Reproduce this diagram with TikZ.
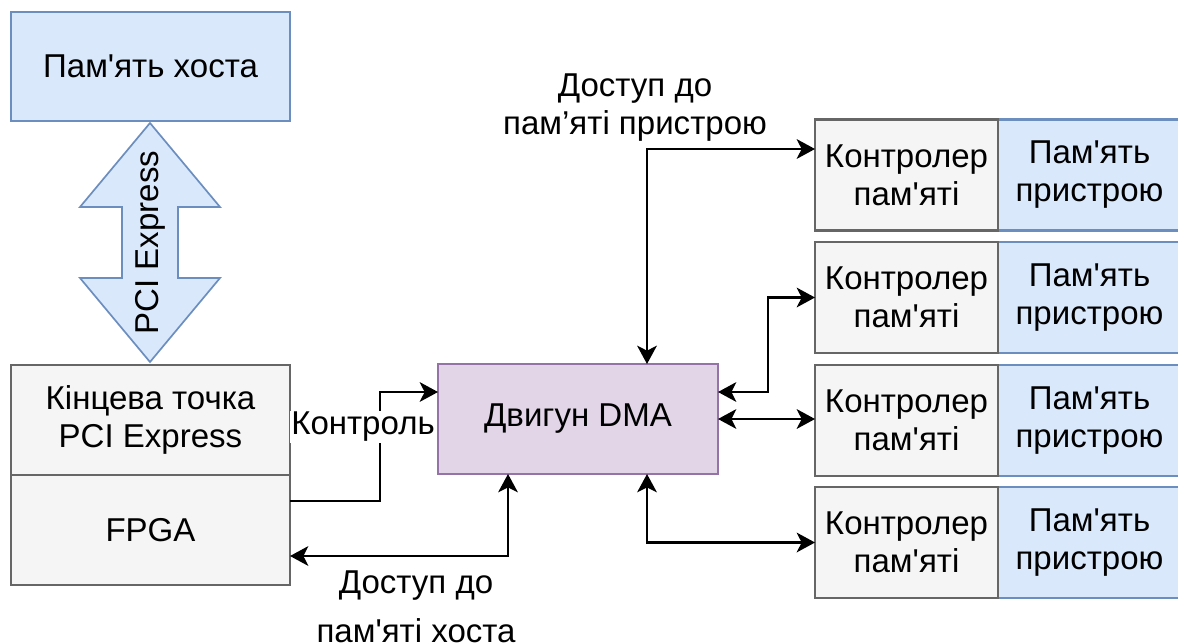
\documentclass[tikz,border=0pt]{standalone}
\usepackage{fontspec}
\setmainfont{Liberation Sans}[Ligatures=TeXOff]
\usetikzlibrary{positioning, arrows.meta}

\definecolor{hostfill}{HTML}{DAE8FC}
\definecolor{hostline}{HTML}{6C8EBF}
\definecolor{boxfill}{HTML}{F5F5F5}
\definecolor{boxline}{HTML}{666666}
\definecolor{dmafill}{HTML}{E1D5E7}
\definecolor{dmaline}{HTML}{9673A6}

\tikzset{
	plainbox/.style={shape=rectangle, draw, line width=1.5pt, outer sep=0pt, inner sep=0pt, align=center},
	bluebox/.style={plainbox, fill=hostfill, draw=hostline},
	graybox/.style={plainbox, fill=boxfill, draw=boxline},
	dmabox/.style={plainbox, fill=dmafill, draw=dmaline, line width=1.1pt},
	wire/.style={line width=1.5pt},
}

\begin{document}
\begin{tikzpicture}[font=\fontsize{23.5pt}{27pt}\selectfont, >={Stealth[length=13pt, width=14pt, inset=3.5pt]}]
	\useasboundingbox (0, 0) rectangle (29.45, -16.075);
	% Paths, nodes and wires:
	\node[bluebox, minimum width=6.975cm, minimum height=2.725cm] (host) at (3.7625, -1.6625){Пам'ять хоста};
	\node[graybox, minimum width=6.975cm, minimum height=2.75cm] (endpoint) at (3.7625, -10.5){Кінцева точка\\PCI Express};
	\node[graybox, minimum width=6.975cm, minimum height=2.75cm, below=0pt of endpoint] (fpga){FPGA};
	\node[dmabox, minimum width=7cm, minimum height=2.75cm] (dma) at (14.45, -10.475){Двигун DMA};
	% device memory banks
	\foreach \i/\y in {1/-4.375, 2/-7.4375, 3/-10.5125, 4/-13.5625} {
		\node[bluebox, minimum width=4.575cm, minimum height=2.775cm] (mem\i) at (27.2375, \y){Пам'ять\\пристрою};
		\node[graybox, minimum width=4.575cm, minimum height=2.775cm, left=0pt of mem\i] (ctrl\i){Контролер\\пам'яті};
	}
	% PCI Express link
	\draw[hostline, fill=hostfill, line width=1.2pt] (3.75, -3.075) -- (5.5, -5.175) -- (4.45, -5.175) -- (4.45, -6.95) -- (5.5, -6.95) -- (3.75, -9.05) -- (2, -6.95) -- (3.05, -6.95) -- (3.05, -5.175) -- (2, -5.175) -- cycle;
	\node[rotate=90] (pcie) at (3.75, -6.0625){PCI Express};
	% wires
	\draw[wire, <->] ([xshift=1.725cm]dma.north) |- ([yshift=0.65cm]ctrl1.west);
	\draw[wire, <->] ([yshift=0.675cm]dma.east) -- ++(1.25, 0) |- (ctrl2.west);
	\draw[wire, <->] (dma.east) -- (dma.east -| ctrl3.west);
	\draw[wire, <->] ([xshift=1.725cm]dma.south) |- (ctrl4.west);
	\draw[wire, ->] ([yshift=0.725cm]fpga.east) -- ++(2.25, 0) |- ([yshift=0.675cm]dma.west);
	\draw[wire, <->] ([xshift=-1.75cm]dma.south) |- ([yshift=-0.65cm]fpga.east);
	% labels
	\node[fill=white, inner sep=1pt] (ctrllabel) at (9.075, -10.675){Контроль};
	\node[align=center] (devlabel) at (15.875, -2.6875){Доступ до\\пам’яті пристрою};
	\node[align=center] (hostlabel) at (10.4, -15.175){Доступ до\\[8pt]пам'яті хоста};
\end{tikzpicture}
\end{document}
